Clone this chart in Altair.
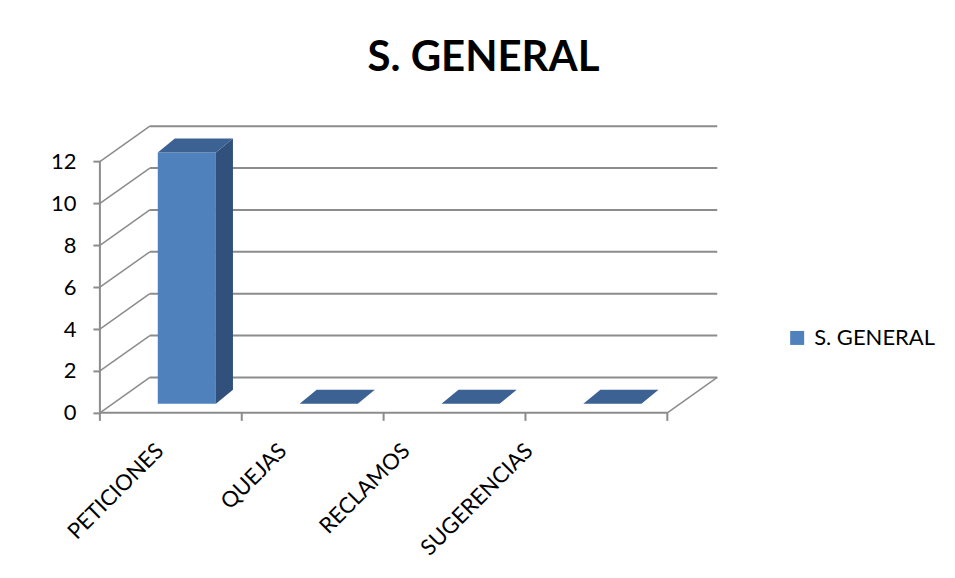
import json
import altair as alt
import pandas as pd

# ---- data ----
CATEGORIES = ["PETICIONES", "QUEJAS", "RECLAMOS", "SUGERENCIAS"]
VALUES = [12, 0, 0, 0]
SERIES = "S. GENERAL"
TITLE = "S. GENERAL"
Y_TICKS = [0, 2, 4, 6, 8, 10, 12]

# ---- 3-D projection / style constants ----
DEPTH_X = 0.352      # wall depth, in category units
DEPTH_Y = 1.69       # wall depth, in value units
BAR_OFF = 0.408      # bar front face offset inside its category
BAR_W = 0.41         # bar width (category units)
BAR_BASE = 0.43      # bar front face sits this far above the front floor edge
BAR_DX = 0.12        # bar depth (x)
BAR_DY = 0.67        # bar depth (y)
LABEL_OFF = 0.37     # rotated label anchor inside category
LABEL_STEP = 0.868   # spacing between rotated labels
N = len(CATEGORIES)
YMAX = max(Y_TICKS)

FRONT = "#4F81BD"
TOP = "#3B6293"
SIDE = "#32507C"
GRID = "#8C8C8C"
FONT = "Lato"
FS = 22

W, H = 618, 287
XDOM = [0, N + DEPTH_X]
YDOM = [0, YMAX + DEPTH_Y]
xs = alt.Scale(domain=XDOM, nice=False, zero=False)
ys = alt.Scale(domain=YDOM, nice=False, zero=False)

# ---- tables ----
bars = pd.DataFrame({"category": CATEGORIES, "value": VALUES,
                     "idx": list(range(N)), "series": SERIES})
bars["x0"] = bars["idx"] + BAR_OFF
bars["x1"] = bars["x0"] + BAR_W
bars["yb"] = BAR_BASE
bars["yt"] = bars["value"] + BAR_BASE

side_rows, top_rows = [], []
for _, r in bars.iterrows():
    side_rows.append({"category": r.category, "x": r.x1, "y": r.yb, "y2": r.yt})
    side_rows.append({"category": r.category, "x": r.x1 + BAR_DX,
                      "y": r.yb + BAR_DY, "y2": r.yt + BAR_DY})
    top_rows.append({"category": r.category, "y": r.yt, "x": r.x0, "x2": r.x1})
    top_rows.append({"category": r.category, "y": r.yt + BAR_DY,
                     "x": r.x0 + BAR_DX, "x2": r.x1 + BAR_DX})
side_df = pd.DataFrame(side_rows)
top_df = pd.DataFrame(top_rows)
front_df = bars.rename(columns={"x0": "x", "x1": "x2", "yb": "y", "yt": "y2"})

diag_rows = [{"x": 0, "y": v, "x2": DEPTH_X, "y2": v + DEPTH_Y} for v in Y_TICKS]
diag_rows.append({"x": N, "y": 0, "x2": N + DEPTH_X, "y2": DEPTH_Y})
diag_df = pd.DataFrame(diag_rows)

horiz_rows = [{"x": DEPTH_X, "y": v + DEPTH_Y, "x2": N + DEPTH_X, "y2": v + DEPTH_Y}
              for v in Y_TICKS]
horiz_rows.append({"x": 0, "y": 0, "x2": N, "y2": 0})      # front floor edge
horiz_rows.append({"x": 0, "y": 0, "x2": 0, "y2": YMAX})   # value axis line
horiz_df = pd.DataFrame(horiz_rows)

cat_ticks = pd.DataFrame({"x": list(range(N + 1)), "y": 0})

label_vals = [LABEL_OFF + i * LABEL_STEP for i in range(N)]
label_expr = (f"{json.dumps(CATEGORIES)}"
              f"[round((datum.value - {LABEL_OFF}) / {LABEL_STEP})]")

X_AXIS = alt.Axis(
    values=label_vals, labelExpr=label_expr, title=None, domain=False,
    ticks=False, grid=False, labelAngle=315, labelAlign="right",
    labelBaseline="top", labelPadding=27, labelFontSize=FS, labelFont=FONT,
    labelColor="#000000", labelOverlap=False, labelFlush=False, labelBound=False)
Y_AXIS = alt.Axis(
    values=Y_TICKS, title=None, domain=False, grid=False, tickSize=7,
    tickWidth=2, tickColor=GRID, labelPadding=17, labelFontSize=FS,
    labelFont=FONT, labelColor="#000000", labelFlush=False, labelOverlap=False)

XE = alt.X("x:Q", scale=xs, axis=X_AXIS)
YE = alt.Y("y:Q", scale=ys, axis=Y_AXIS)

# ---- layers ----
diag = alt.Chart(diag_df).mark_rule(color=GRID, strokeWidth=1.5).encode(
    x=XE, x2="x2:Q", y=YE, y2="y2:Q")

horiz = alt.Chart(horiz_df).mark_rule(color=GRID, strokeWidth=2).encode(
    x=XE, x2="x2:Q", y=YE, y2="y2:Q")

ticks = alt.Chart(cat_ticks).mark_rule(color=GRID, strokeWidth=2).encode(
    x=XE, y=YE, y2=alt.value(H + 8))

side = alt.Chart(side_df).mark_area(color=SIDE, opacity=1).encode(
    x=XE, y=YE, y2="y2:Q", detail="category:N")

front = alt.Chart(front_df).mark_rect(opacity=1).encode(
    x=XE, x2="x2:Q", y=YE, y2="y2:Q",
    color=alt.Color("series:N", scale=alt.Scale(domain=[SERIES], range=[FRONT]),
                    legend=alt.Legend(
                        title=None, orient="none", legendX=687, legendY=201,
                        symbolType="square", symbolSize=196, symbolStrokeWidth=0,
                        labelFontSize=FS, labelFont=FONT, labelColor="#000000",
                        labelOffset=6, padding=0)),
)

top = alt.Chart(top_df).mark_area(color=TOP, opacity=1, orient="horizontal").encode(
    y=YE, x=XE, x2="x2:Q", detail="category:N")

chart = alt.layer(diag, horiz, ticks, side, front, top).properties(
    width=W, height=H,
    title=alt.Title(TITLE, fontSize=42, font=FONT, fontWeight="bold",
                    color="#000000", anchor="middle", frame="group", dx=75,
                    offset=12, baseline="alphabetic"),
    autosize=alt.AutoSizeParams(type="none"),
    padding={"left": 92, "top": 118, "right": 230, "bottom": 150},
).configure(background="#FFFFFF").configure_view(stroke=None)

chart.save("out.html", embed_options={"renderer": "svg", "actions": False})
